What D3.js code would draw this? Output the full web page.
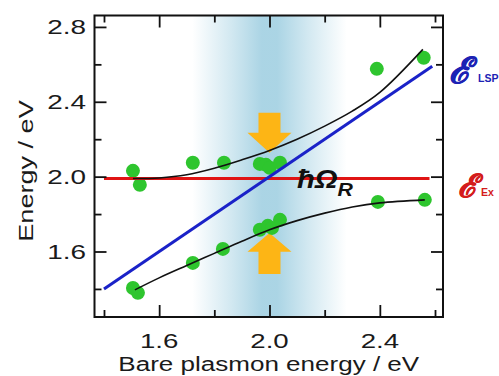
<!DOCTYPE html>
<html><head><meta charset="utf-8">
<script src="https://cdn.jsdelivr.net/npm/d3@7"></script>
<style>html,body{margin:0;padding:0;background:#fff;} svg{display:block}</style>
</head><body>
<svg id="c" width="499" height="376"></svg>
<script>
// ---- data ----
const upperPtsX = [1.505, 1.530, 1.722, 1.835, 1.965, 1.987, 2.001, 2.038, 2.389, 2.559];
const upperPtsY = [2.031, 1.956, 2.074, 2.074, 2.068, 2.063, 2.047, 2.074, 2.576, 2.635];
const lowerPtsX = [1.505, 1.523, 1.722, 1.831, 1.965, 1.994, 2.009, 2.038, 2.393, 2.563];
const lowerPtsY = [1.405, 1.379, 1.539, 1.614, 1.716, 1.737, 1.726, 1.769, 1.865, 1.876];
const upperCurveX = [1.505, 1.600, 1.700, 1.800, 1.900, 2.000, 2.100, 2.200, 2.300, 2.400, 2.556];
const upperCurveY = [1.990, 1.993, 2.010, 2.045, 2.090, 2.140, 2.200, 2.270, 2.350, 2.450, 2.680];
const lowerCurveX = [1.512, 1.600, 1.700, 1.800, 1.900, 2.000, 2.100, 2.200, 2.300, 2.400, 2.563];
const lowerCurveY = [1.395, 1.459, 1.525, 1.590, 1.655, 1.716, 1.765, 1.805, 1.838, 1.860, 1.876];
const lspX = [1.40, 2.59];
const lspY = [1.40, 2.59];
const exX = [1.40, 2.58];
const exY = [1.99, 1.99];
const bandRange = [1.72, 2.28];
const arrowX = 2.0;
const downArrowY = [2.341, 2.234, 2.127]; // tail, head base, tip
const upArrowY = [1.480, 1.598, 1.699];
const xTicks = [1.4, 1.6, 1.8, 2.0, 2.2, 2.4, 2.6];
const yTicks = [1.4, 1.6, 1.8, 2.0, 2.2, 2.4, 2.6, 2.8];
const xLabels = ["1.6", "2.0", "2.4"];
const yLabels = ["1.6", "2.0", "2.4", "2.8"];
const xTitle = "Bare plasmon energy / eV";
const yTitle = "Energy / eV";

// ---- layout ----
const L = 94.5, R = 443, T = 15.5, B = 317;
const x = d3.scaleLinear().domain([1.3656, 2.629]).range([L, R]);
const y = d3.scaleLinear().domain([1.250, 2.861]).range([B, T]);
const svg = d3.select("#c");
const font = "'Liberation Sans', Arial, sans-serif";

// band
const defs = svg.append("defs");
const grad = defs.append("linearGradient").attr("id", "band").attr("x1", "0").attr("x2", "1").attr("y1", "0").attr("y2", "0");
[[0, 0], [0.25, 0.45], [0.45, 0.85], [0.55, 0.85], [0.75, 0.45], [1, 0]].forEach(([o, a]) =>
  grad.append("stop").attr("offset", o).attr("stop-color", "#9ccde0").attr("stop-opacity", a));
svg.append("rect").attr("x", x(bandRange[0])).attr("width", x(bandRange[1]) - x(bandRange[0]))
  .attr("y", T).attr("height", B - T).attr("fill", "url(#band)");

// arrows
function arrow(ys) {
  const cx = x(arrowX), sw = 11, hw = 22;
  const [a, b, c] = ys.map(y);
  const pts = [[cx - sw, a], [cx + sw, a], [cx + sw, b], [cx + hw, b], [cx, c], [cx - hw, b], [cx - sw, b]];
  svg.append("polygon").attr("points", pts.map(p => p.join(",")).join(" ")).attr("fill", "#fdb515");
}
arrow(downArrowY);
arrow(upArrowY);

// dots
const dotsU = upperPtsX.map((v, i) => [v, upperPtsY[i]]);
const dotsL = lowerPtsX.map((v, i) => [v, lowerPtsY[i]]);
svg.selectAll("circle.d").data(dotsU.concat(dotsL)).join("circle").attr("class", "d")
  .attr("cx", d => x(d[0])).attr("cy", d => y(d[1])).attr("r", 7).attr("fill", "#2ec52e");

// lines
const line = d3.line().x(d => x(d[0])).y(d => y(d[1]));
svg.append("path").attr("d", line(exX.map((v, i) => [v, exY[i]]))).attr("stroke", "#e01414").attr("stroke-width", 3).attr("fill", "none");
svg.append("path").attr("d", line(lspX.map((v, i) => [v, lspY[i]]))).attr("stroke", "#1a22c8").attr("stroke-width", 3).attr("fill", "none");
const curve = d3.line().x(d => x(d[0])).y(d => y(d[1])).curve(d3.curveCatmullRom);
svg.append("path").attr("d", curve(upperCurveX.map((v, i) => [v, upperCurveY[i]]))).attr("stroke", "#111").attr("stroke-width", 1.6).attr("fill", "none");
svg.append("path").attr("d", curve(lowerCurveX.map((v, i) => [v, lowerCurveY[i]]))).attr("stroke", "#111").attr("stroke-width", 1.6).attr("fill", "none");

// axes / ticks
const isMajorX = v => xLabels.includes(v.toFixed(1));
const isMajorY = v => yLabels.includes(v.toFixed(1));
function tickSet(gen, scale, vals, isMajor, tr) {
  const maj = vals.filter(isMajor), min = vals.filter(v => !isMajor(v));
  [[maj, 12], [min, 7]].forEach(([vs, len]) => {
    const g = svg.append("g").attr("transform", tr)
      .call(gen(scale).tickValues(vs).tickFormat("").tickSizeOuter(0).tickSizeInner(-len));
    g.select(".domain").remove();
    g.selectAll("line").attr("stroke", "#111").attr("stroke-width", 1.8);
  });
}
tickSet(d3.axisBottom, x, xTicks, isMajorX, `translate(0,${B})`);
tickSet(d3.axisTop, x, xTicks, isMajorX, `translate(0,${T})`);
tickSet(d3.axisLeft, y, yTicks, isMajorY, `translate(${L},0)`);
tickSet(d3.axisRight, y, yTicks, isMajorY, `translate(${R},0)`);
svg.append("rect").attr("x", L).attr("y", T).attr("width", R - L).attr("height", B - T)
  .attr("fill", "none").attr("stroke", "#111").attr("stroke-width", 2);

// labels
function stext(px, py, str, size, sx, anchor, rot) {
  return svg.append("text")
    .attr("transform", `translate(${px},${py})${rot ? " rotate(" + rot + ")" : ""} scale(${sx},1)`)
    .attr("text-anchor", anchor).style("font-family", font).style("font-size", size + "px")
    .attr("fill", "#1a1a1a").text(str);
}
xLabels.forEach(s => stext(x(+s), 348, s, 20, 1.38, "middle"));
yLabels.forEach(s => stext(86, y(+s) + 7.5, s, 21, 1.33, "end"));
stext((L + R) / 2, 371, xTitle, 21, 1.24, "middle");
stext(33, 171, yTitle, 21, 1.29, "middle", -90);

// hbar Omega R
const om = svg.append("text").attr("transform", "translate(297,188) scale(1.12,1)")
  .style("font-family", font).style("font-size", "26px").style("font-weight", "bold").style("font-style", "italic").attr("fill", "#111");
om.append("tspan").text("ħΩ");
om.append("tspan").attr("dy", 8).style("font-size", "19px").text("R");

// script E labels
function elabel(px, py, sx, sub, color, fs) {
  svg.append("text").attr("x", px).attr("y", py).attr("fill", color).text("ℰ")
    .style("font-family", "'DejaVu Serif', serif").style("font-size", fs + "px").style("font-weight", "bold").style("font-style", "italic")
    .attr("stroke", color).attr("stroke-width", 0.6);
  svg.append("text").attr("x", sx).attr("y", py - 1).attr("fill", color)
    .style("font-family", font).style("font-size", "10.5px").style("font-weight", "bold").text(sub);
}
elabel(449, 83, 478, "LSP", "#1c22b4", 36);
elabel(458, 197, 481, "Ex", "#d41c1c", 32);
</script>
</body></html>
